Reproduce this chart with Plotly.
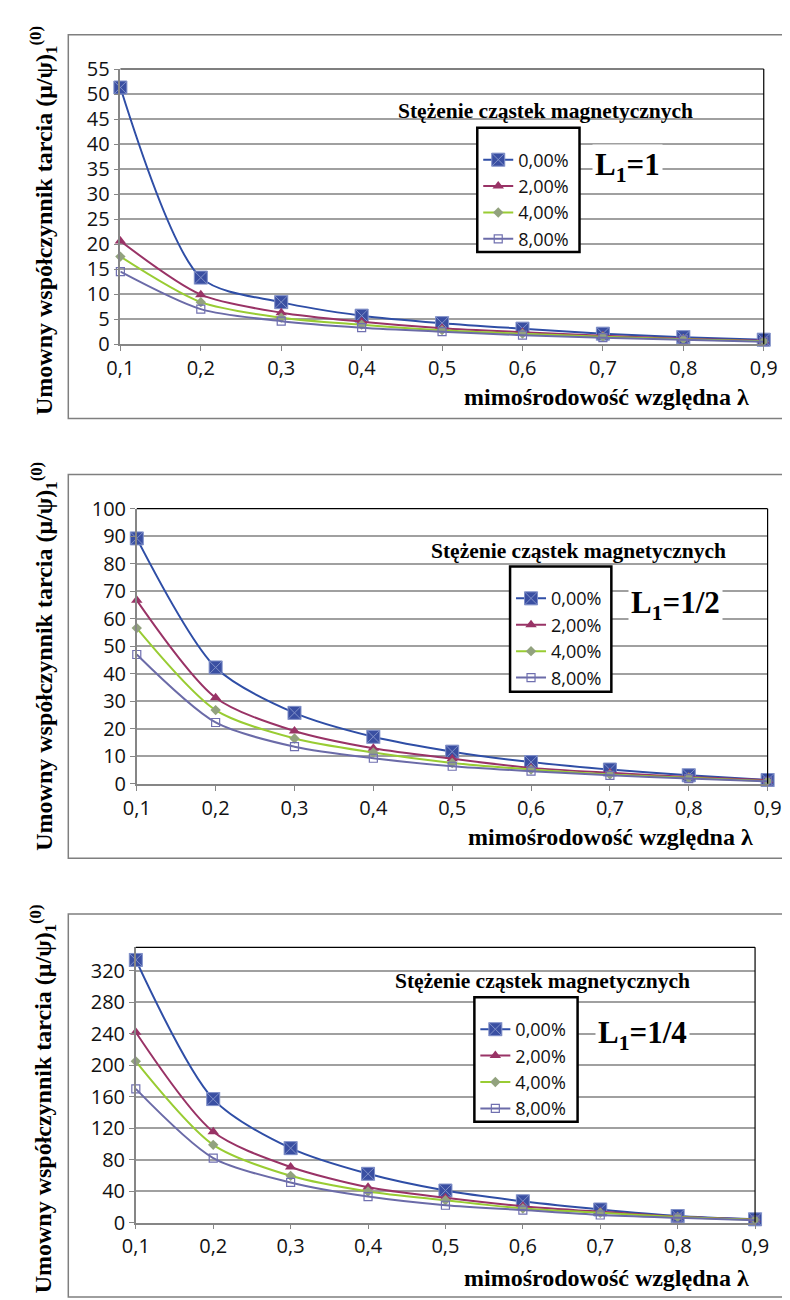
import plotly.graph_objects as go

W, H = 790, 1300

LAMBDA = [0.1, 0.2, 0.3, 0.4, 0.5, 0.6, 0.7, 0.8, 0.9]
SERIES_NAMES = ["0,00%", "2,00%", "4,00%", "8,00%"]

# L1 = 1
L1_1_S0 = [51.3, 13.3, 8.4, 5.7, 4.2, 3.1, 2.1, 1.4, 0.9]
L1_1_S2 = [20.6, 9.9, 6.3, 4.5, 3.2, 2.4, 1.7, 1.1, 0.7]
L1_1_S4 = [17.5, 8.4, 5.3, 3.9, 2.8, 2.1, 1.5, 1.0, 0.6]
L1_1_S8 = [14.5, 7.0, 4.6, 3.3, 2.5, 1.8, 1.3, 0.9, 0.5]

# L1 = 1/2
L1_2_S0 = [89.2, 42.3, 25.8, 17.1, 11.7, 7.9, 5.2, 3.1, 1.4]
L1_2_S2 = [66.7, 31.3, 19.2, 12.9, 9.1, 5.8, 4.0, 2.5, 1.3]
L1_2_S4 = [56.6, 26.8, 16.5, 11.4, 7.6, 5.2, 3.4, 2.2, 1.0]
L1_2_S8 = [47.0, 22.3, 13.5, 9.3, 6.4, 4.6, 3.1, 1.9, 0.9]

# L1 = 1/4
L1_4_S0 = [334, 157, 94.6, 62, 40.7, 27, 16.6, 8.3, 4.1]
L1_4_S2 = [242, 115.4, 70.6, 44.8, 31.5, 20.8, 13.7, 7.5, 4.0]
L1_4_S4 = [205, 98.8, 59.4, 39.5, 28.3, 17.9, 12.5, 7.0, 3.5]
L1_4_S8 = [170, 82, 51, 33, 22, 15.8, 9.6, 6.0, 3.0]

Y_TICKS_1 = [0, 5, 10, 15, 20, 25, 30, 35, 40, 45, 50, 55]
Y_TICKS_2 = [0, 10, 20, 30, 40, 50, 60, 70, 80, 90, 100]
Y_TICKS_3 = [0, 40, 80, 120, 160, 200, 240, 280, 320]

PANEL_LABELS = ["L<sub>1</sub>=1", "L<sub>1</sub>=1/2", "L<sub>1</sub>=1/4"]
LEGEND_TITLE = "Stężenie cząstek magnetycznych"
X_TITLE = "mimośrodowość względna λ"
Y_TITLE = "Umowny współczynnik tarcia (μ/ψ)<sub>1</sub><sup>(0)</sup>"

STYLES = [
    dict(line="#2F4EA6", marker=dict(symbol="square-x", size=13, color="#3A4FA2",
                                      line=dict(color="#8090C8", width=1))),
    dict(line="#993366", marker=dict(symbol="triangle-up", size=10, color="#993366",
                                      line=dict(width=0))),
    dict(line="#99CC33", marker=dict(symbol="diamond", size=8, color="#92A27E",
                                      line=dict(width=0))),
    dict(line="#6B6BA8", marker=dict(symbol="square-open", size=8, color="#7070B0",
                                      line=dict(width=1.2))),
]

SERIF = "Liberation Serif, Times New Roman, serif"
SANS = "Open Sans, Noto Sans, sans-serif"


def px_x(v):
    return v / W


def px_y(v):
    return 1 - v / H


panels = [
    dict(data=[L1_1_S0, L1_1_S2, L1_1_S4, L1_1_S8], yr=[0, 55], yt=Y_TICKS_1,
         plot=(102, 769, 48, 329), frame=(48, 405, 13), ltitle=(543, 91),
         lbox=(472, 578, 108, 235), lab=(628, 148), ytitle=(22, 203), xtitle=(606, 383)),
    dict(data=[L1_2_S0, L1_2_S2, L1_2_S4, L1_2_S8], yr=[0, 100], yt=Y_TICKS_2,
         plot=(119, 773, 497, 778), frame=(48, 854, 462), ltitle=(577, 540),
         lbox=(506, 611, 556, 684), lab=(678, 595), ytitle=(22, 648), xtitle=(610, 832)),
    dict(data=[L1_4_S0, L1_4_S2, L1_4_S4, L1_4_S8], yr=[0, 350], yt=Y_TICKS_3,
         plot=(118, 760, 945, 1226), frame=(48, 1302, 911), ltitle=(540, 979),
         lbox=(469, 576, 996, 1123), lab=(643, 1034), ytitle=(22, 1100), xtitle=(606, 1283)),
]

fig = go.Figure()
shapes = []
annotations = []
layout = dict(width=W, height=H, margin=dict(l=0, r=0, t=0, b=0),
              paper_bgcolor="white", plot_bgcolor="white", separators=", ",
              showlegend=True)


def ann(text, x, y, size, family, **kw):
    d = dict(text=text, xref="paper", yref="paper", x=px_x(x), y=px_y(y),
             xanchor="center", yanchor="middle", showarrow=False,
             font=dict(family=family, size=size, color="#000"))
    d.update(kw)
    return d


for i, p in enumerate(panels):
    n = "" if i == 0 else str(i + 1)
    xa, ya = "x" + n, "y" + n
    leg = "legend" + n
    x0, x1, y0, y1 = p["plot"]
    for k, (vals, name) in enumerate(zip(p["data"], SERIES_NAMES)):
        st = STYLES[k]
        fig.add_trace(go.Scatter(
            x=LAMBDA, y=vals, name=name, mode="lines+markers",
            line=dict(color=st["line"], width=2, shape="spline", smoothing=0.8),
            marker=st["marker"], xaxis=xa, yaxis=ya, legend=leg, cliponaxis=False))
    layout["xaxis" + n] = dict(
        domain=[px_x(x0), px_x(x1)], anchor=ya, range=[0.1, 0.9], tickvals=LAMBDA,
        tickformat=".1f", showgrid=False, zeroline=False, showline=True,
        linecolor="#868686", linewidth=1.5, ticks="outside", ticklen=5,
        tickcolor="#868686", tickfont=dict(family=SANS, size=20, color="#111"),
        fixedrange=True)
    layout["yaxis" + n] = dict(
        domain=[px_y(y1), px_y(y0)], anchor=xa, range=p["yr"], tickvals=p["yt"],
        showgrid=True, gridcolor="#A0A0A0", gridwidth=1.5, zeroline=False,
        showline=True, linecolor="#868686", linewidth=1.5, ticks="outside",
        ticklen=5, tickcolor="#868686",
        tickfont=dict(family=SANS, size=20, color="#111"), fixedrange=True)
    fx0, fy1, fy0 = p["frame"]
    shapes.append(dict(type="rect", xref="paper", yref="paper",
                       x0=px_x(fx0), x1=px_x(W + 20), y0=px_y(fy1), y1=px_y(fy0),
                       line=dict(color="#7F7F7F", width=1.5), layer="below"))
    shapes.append(dict(type="line", xref="paper", yref="paper",
                       x0=px_x(x0), x1=px_x(x1), y0=px_y(y0), y1=px_y(y0),
                       line=dict(color="#000", width=1.2), layer="above"))
    shapes.append(dict(type="line", xref="paper", yref="paper",
                       x0=px_x(x1), x1=px_x(x1), y0=px_y(y0), y1=px_y(y1),
                       line=dict(color="#000", width=1.2), layer="above"))
    bx0, bx1, by0, by1 = p["lbox"]
    shapes.append(dict(type="rect", xref="paper", yref="paper",
                       x0=px_x(bx0), x1=px_x(bx1), y0=px_y(by1), y1=px_y(by0),
                       line=dict(color="#000", width=2.5), fillcolor="white",
                       layer="above"))
    layout[leg] = dict(x=px_x(bx0 + 1), y=px_y(by0 + 14), xanchor="left",
                       yanchor="top", bgcolor="rgba(0,0,0,0)", borderwidth=0,
                       font=dict(family=SANS, size=18, color="#111"),
                       itemwidth=30, tracegroupgap=0)
    annotations.append(ann("<b>" + LEGEND_TITLE + "</b>", p["ltitle"][0],
                           p["ltitle"][1], 21.5, SERIF))
    annotations.append(ann("<b>" + PANEL_LABELS[i] + "</b>", p["lab"][0], p["lab"][1],
                           31, SERIF, bgcolor="white", borderpad=2))
    annotations.append(ann("<b>" + Y_TITLE + "</b>", p["ytitle"][0], p["ytitle"][1],
                           24, SERIF, textangle=-90))
    annotations.append(ann("<b>" + X_TITLE + "</b>", p["xtitle"][0], p["xtitle"][1],
                           24, SERIF))

layout["shapes"] = shapes
layout["annotations"] = annotations
fig.update_layout(**layout)
fig.write_html("out.html")
